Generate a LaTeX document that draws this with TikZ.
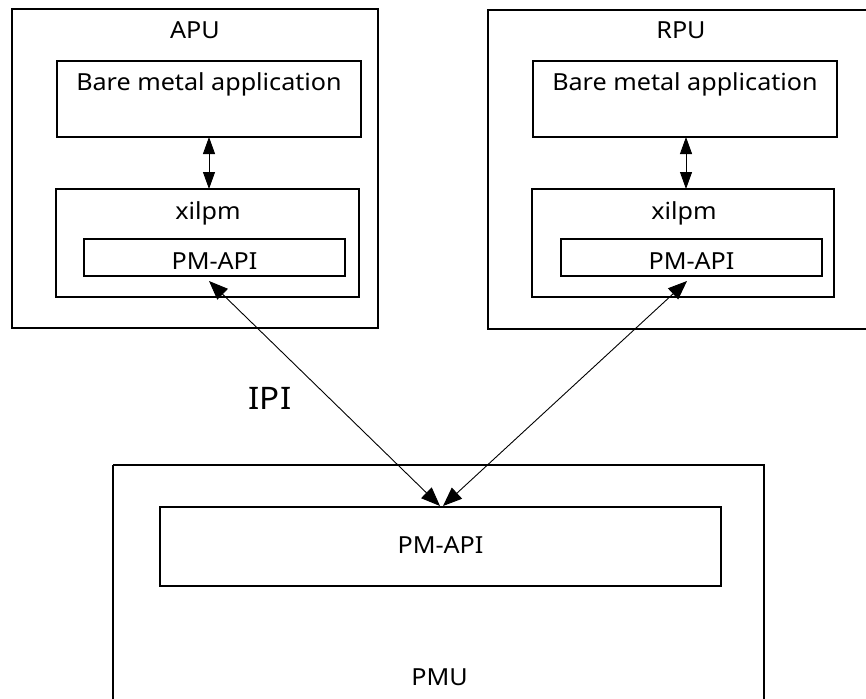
\documentclass[tikz,border=0pt]{standalone}
\usepackage{fontspec}
\setmainfont[FakeStretch=1.07]{Noto Sans}
\usetikzlibrary{arrows.meta}
\begin{document}
\begin{tikzpicture}[x=1pt,y=-1pt,
  box/.style={draw, line width=1.8pt},
  lbl/.style={font=\fontsize{23.5}{26}\selectfont, inner sep=0pt, anchor=base},
  small/.style={line width=0.9pt, {Triangle[length=17pt,width=12pt]}-{Triangle[length=17pt,width=12pt]}},
  big/.style={line width=0.9pt, {Triangle[length=19pt,width=15pt]}-{Triangle[length=19pt,width=15pt]}}]
\useasboundingbox (0,0) rectangle (866,698);
% APU
\draw[box] (12,9) rectangle (378,328);
\node[lbl] (apu) at (195,39) {APU};
\draw[box] (57,61) rectangle (361,137);
\node[lbl] (abma) at (209,91) {Bare metal application};
\draw[box] (56,189) rectangle (359,297);
\node[lbl] (axil) at (208,219) {xilpm};
\draw[box] (84,239) rectangle (345,276);
\node[lbl] (aapi) at (214.5,269) {PM-API};
\coordinate (abmab) at (209,137);
\coordinate (axilt) at (209,189);
\draw[small] (abmab) -- (axilt);
% RPU
\draw[box] (488,10) rectangle (880,329);
\node[lbl] (rpu) at (681,39) {RPU};
\draw[box] (533,61) rectangle (837,137);
\node[lbl] (rbma) at (685,91) {Bare metal application};
\draw[box] (532,189) rectangle (834,297);
\node[lbl] (rxil) at (684,219) {xilpm};
\draw[box] (561,239) rectangle (822,276);
\node[lbl] (rapi) at (691.5,269) {PM-API};
\coordinate (rbmab) at (686,137);
\coordinate (rxilt) at (686,189);
\draw[small] (rbmab) -- (rxilt);
% PMU
\draw[box] (113,465) -- (113,702) (113,465) -- (764,465) -- (764,702);
\draw[box] (160,507) rectangle (721,586);
\node[lbl] (papi) at (440.5,553) {PM-API};
\node[lbl] (pmu) at (439.5,685) {PMU};
% IPI
\node[lbl, font=\fontsize{31}{34}\selectfont] (ipi) at (270,409) {IPI};
\coordinate (a1) at (209,281);
\coordinate (r1) at (687,281);
\coordinate (p1) at (440,506);
\coordinate (p2) at (443,506);
\draw[big] (a1) -- (p1);
\draw[big] (r1) -- (p2);
\end{tikzpicture}
\end{document}
